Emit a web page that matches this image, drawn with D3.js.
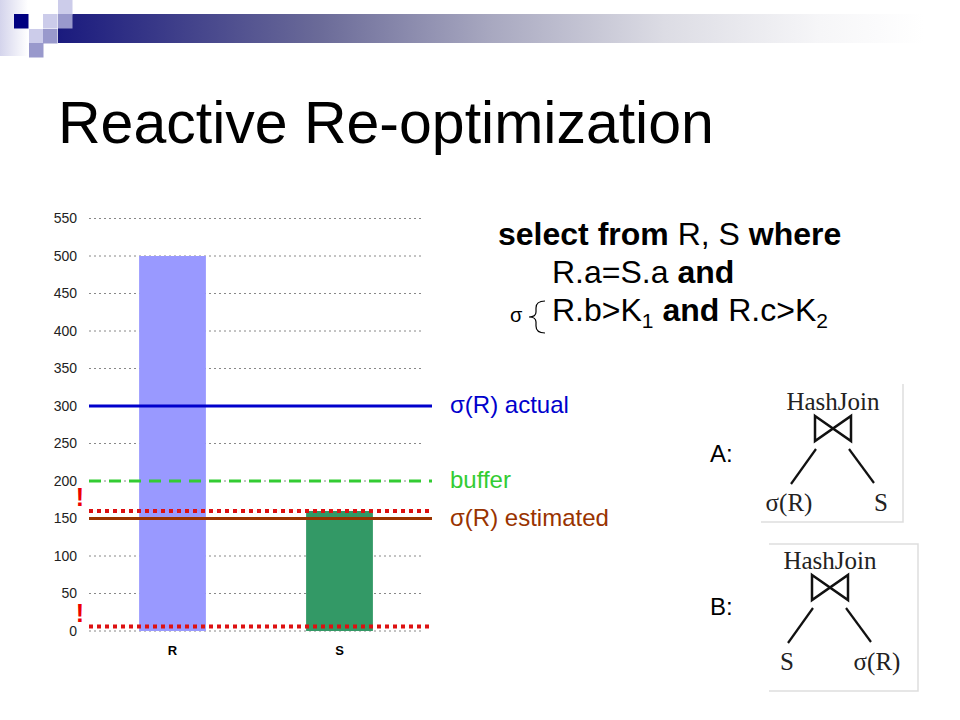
<!DOCTYPE html>
<html lang="en">
<head>
<meta charset="utf-8">
<title>Reactive Re-optimization</title>
<script src="https://cdn.jsdelivr.net/npm/d3@7"></script>
<style>
  body { margin: 0; background: #fff; }
  svg { display: block; font-family: 'Liberation Sans', Arial, sans-serif; }
</style>
</head>
<body>
<script>
// data
var categories = ["R", "S"];
var values = [500, 160];
var yTicks = [0, 50, 100, 150, 200, 250, 300, 350, 400, 450, 500, 550];
var refNames = ["σ(R) actual", "buffer", "σ(R) estimated"];
var refValues = [300, 200, 150];
var warnValues = [160, 6];

var W = 960, H = 720;
var svg = d3.select("body").append("svg").attr("width", W).attr("height", H);

/* HEADER DECORATION */
var defs = svg.append("defs");
var g1 = defs.append("linearGradient").attr("id", "hdr");
[[0, "#1a1a7e"], [0.3, "#6a6a98"], [0.5, "#a8a8c0"], [0.7, "#dcdce4"], [0.88, "#f6f6f8"], [1, "#ffffff"]]
  .forEach(function (s) { g1.append("stop").attr("offset", s[0]).attr("stop-color", s[1]); });
var g2 = defs.append("linearGradient").attr("id", "side");
g2.append("stop").attr("offset", 0).attr("stop-color", "#d4d4ec");
g2.append("stop").attr("offset", 1).attr("stop-color", "#ffffff");

svg.append("rect").attr("x", 0).attr("y", 0).attr("width", 28).attr("height", 56).attr("fill", "url(#side)");
svg.append("rect").attr("x", 58).attr("y", 14).attr("width", 866).attr("height", 29).attr("fill", "url(#hdr)");
var squares = [[14, 14, "#000080"], [58, 0, "#ccccea"], [43, 14, "#ccccea"], [58, 14, "#9999cc"],
               [29, 29, "#ccccea"], [43, 29, "#9999cc"], [29, 43, "#9999cc"]];
squares.forEach(function (s) {
  svg.append("rect").attr("x", s[0]).attr("y", s[1]).attr("width", 14.5).attr("height", 14.5).attr("fill", s[2]);
});

/* TITLE */
svg.append("text").attr("x", 58).attr("y", 143)
  .attr("font-size", 59).attr("fill", "#000")
  .text("Reactive Re-optimization");

/* CHART */
var x = d3.scaleBand().domain(categories).range([89, 423]).paddingInner(0.6).paddingOuter(0.3);
var y = d3.scaleLinear().domain([0, 550]).range([631, 218.5]);
var barColor = d3.scaleOrdinal().domain(categories).range(["#9999ff", "#339966"]);

var chart = svg.append("g");

chart.selectAll(".grid").data(yTicks).enter().append("line")
  .attr("x1", 89).attr("x2", 423)
  .attr("y1", function (d) { return y(d); }).attr("y2", function (d) { return y(d); })
  .attr("stroke", "#888").attr("stroke-width", 1).attr("stroke-dasharray", "2,3");

var yAxis = d3.axisLeft(y).tickValues(yTicks).tickSize(0).tickPadding(0);
var ya = chart.append("g").attr("transform", "translate(77,0)").call(yAxis);
ya.select(".domain").remove();
ya.selectAll("text").attr("font-size", 14).attr("fill", "#222")
  .attr("font-family", "'Liberation Sans', Arial, sans-serif");

chart.selectAll(".bar").data(categories).enter().append("rect")
  .attr("x", function (d) { return x(d); })
  .attr("width", x.bandwidth())
  .attr("y", function (d, i) { return y(values[i]); })
  .attr("height", function (d, i) { return y(0) - y(values[i]); })
  .attr("fill", function (d) { return barColor(d); });

var xAxis = d3.axisBottom(x).tickSize(0).tickPadding(0);
var xa = chart.append("g").attr("transform", "translate(0,646)").call(xAxis);
xa.select(".domain").remove();
xa.selectAll("text").attr("font-size", 13).attr("font-weight", "bold").attr("fill", "#000")
  .attr("font-family", "'Liberation Sans', Arial, sans-serif");

// reference lines
var refColor = ["#0000cc", "#33cc33", "#993300"];
var refDash = [null, "12,8", null];
chart.selectAll(".ref").data(refValues).enter().append("line")
  .attr("x1", 89).attr("x2", 432)
  .attr("y1", function (d) { return y(d); }).attr("y2", function (d) { return y(d); })
  .attr("stroke", function (d, i) { return refColor[i]; })
  .attr("stroke-width", 3)
  .attr("stroke-dasharray", function (d, i) { return refDash[i]; });

chart.selectAll(".warn").data(warnValues).enter().append("line")
  .attr("x1", 89).attr("x2", 430)
  .attr("y1", function (d) { return y(d); }).attr("y2", function (d) { return y(d); })
  .attr("stroke", "#dd1111").attr("stroke-width", 4).attr("stroke-dasharray", "4,4");

chart.selectAll(".warnmark").data(warnValues).enter().append("text")
  .attr("x", 80).attr("y", function (d) { return y(d) - 5; })
  .attr("text-anchor", "middle").attr("font-size", 25).attr("font-weight", "bold")
  .attr("fill", "#ee0000").text("!");

chart.selectAll(".reflabel").data(refValues).enter().append("text")
  .attr("x", 450).attr("y", function (d) { return y(d) + 7; })
  .attr("font-size", 24)
  .attr("fill", function (d, i) { return refColor[i]; })
  .text(function (d, i) { return refNames[i]; });

/* QUERY TEXT */
var q = svg.append("g").attr("font-size", 32).attr("fill", "#000");
var l1 = q.append("text").attr("x", 498).attr("y", 245);
l1.append("tspan").attr("font-weight", "bold").text("select from ");
l1.append("tspan").text("R, S ");
l1.append("tspan").attr("font-weight", "bold").text("where");

var l2 = q.append("text").attr("x", 552).attr("y", 283);
l2.append("tspan").text("R.a=S.a ");
l2.append("tspan").attr("font-weight", "bold").text("and");

var l3 = q.append("text").attr("x", 552).attr("y", 321);
l3.append("tspan").text("R.b>K");
l3.append("tspan").attr("font-size", 21).attr("dy", 7).text("1");
l3.append("tspan").attr("dy", -7).attr("font-weight", "bold").text(" and ");
l3.append("tspan").text("R.c>K");
l3.append("tspan").attr("font-size", 21).attr("dy", 7).text("2");

q.append("text").attr("x", 510).attr("y", 322).attr("font-size", 20).text("σ");
q.append("path")
  .attr("d", "M545,301 Q536,301 536,308 L536,312 Q536,317 529,317 Q536,317 536,322 L536,326 Q536,333 545,333")
  .attr("fill", "none").attr("stroke", "#000").attr("stroke-width", 1.2);

/* PLAN TREES */
function tree(ox, oy, left, right, dl, dr, box) {
  var t = svg.append("g").attr("font-family", "'Liberation Serif', 'Times New Roman', serif").attr("fill", "#222");
  // faint frame
  t.append("path").attr("d", box).attr("fill", "none").attr("stroke", "#dedede").attr("stroke-width", 1.5);
  t.append("text").attr("x", ox).attr("y", oy).attr("text-anchor", "middle").attr("font-size", 25).text("HashJoin");
  t.append("path")
    .attr("d", "M" + (ox - 18) + "," + (oy + 6) + " L" + (ox + 18) + "," + (oy + 31) +
               " L" + (ox + 18) + "," + (oy + 6) + " L" + (ox - 18) + "," + (oy + 31) + " Z")
    .attr("fill", "none").attr("stroke", "#111").attr("stroke-width", 2.5).attr("stroke-linejoin", "miter");
  t.append("line").attr("x1", ox - 17).attr("y1", oy + 39).attr("x2", ox - 42).attr("y2", oy + 74)
    .attr("stroke", "#111").attr("stroke-width", 2.2);
  t.append("line").attr("x1", ox + 16).attr("y1", oy + 39).attr("x2", ox + 41).attr("y2", oy + 73)
    .attr("stroke", "#111").attr("stroke-width", 2.2);
  t.append("text").attr("x", ox + dl).attr("y", oy + 101).attr("text-anchor", "middle").attr("font-size", 25).text(left);
  t.append("text").attr("x", ox + dr).attr("y", oy + 101).attr("text-anchor", "middle").attr("font-size", 25).text(right);
}
tree(833, 410, "σ(R)", "S", -44, 48, "M903,384 L903,522 L761,522");
tree(830, 569, "S", "σ(R)", -43, 47, "M769,544 L918,544 L918,691 L769,691");

svg.append("text").attr("x", 710).attr("y", 462).attr("font-size", 24).text("A:");
svg.append("text").attr("x", 710).attr("y", 615).attr("font-size", 24).text("B:");
</script>
</body>
</html>
